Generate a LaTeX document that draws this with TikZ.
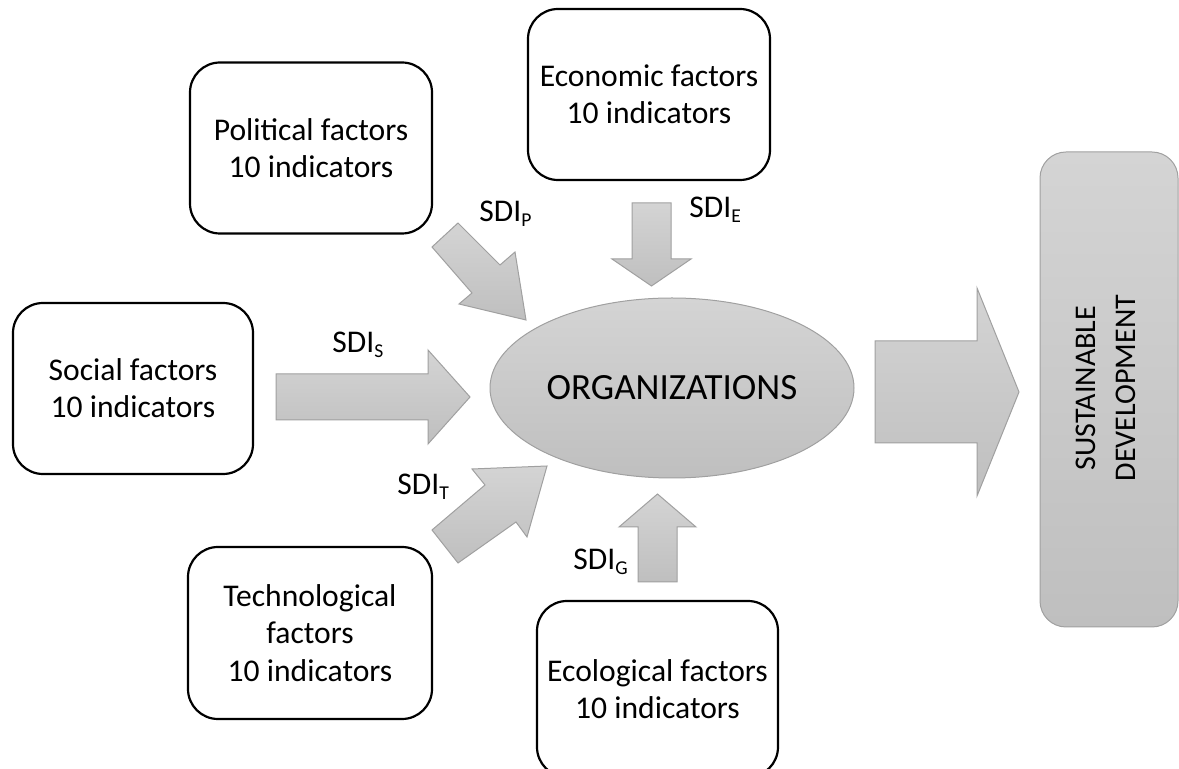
\documentclass[tikz,border=0pt]{standalone}
\usepackage{fontspec}
\setmainfont{Carlito}
\usetikzlibrary{shapes.geometric}
\definecolor{shadeA}{RGB}{212,212,212}
\definecolor{shadeB}{RGB}{191,191,191}
\definecolor{edgegray}{RGB}{160,160,160}
\newcommand\sdisub[1]{\raisebox{-2.5pt}{\fontsize{9.8}{10}\selectfont #1}}
\tikzset{
  factor/.style={draw=black, line width=1.1pt, rounded corners=15pt,
    minimum width=121pt, minimum height=85.5pt, align=center,
    font=\fontsize{15.8}{18.6}\selectfont, inner sep=0pt},
  grayfill/.style={top color=shadeA, bottom color=shadeB, draw=edgegray, line width=0.5pt},
  blockarrow/.style={grayfill},
  sdilabel/.style={anchor=base west, inner sep=0pt, font=\fontsize{15.8}{18.6}\selectfont},
}
\begin{document}
\begin{tikzpicture}[x=0.5pt,y=-0.5pt]
\clip (0,0) rectangle (1179,769);

% factor boxes
\node[factor] (pol) at (311,148) {Political factors\\10 indicators};
\node[factor] (eco) at (649,94.5) {Economic factors\\10 indicators};
\node[factor, minimum width=120pt] (soc) at (133,388.5) {Social factors\\10 indicators};
\node[factor, minimum width=122pt, minimum height=86pt] (tec) at (310,633) {Technological\\factors\\10 indicators};
\node[factor, minimum width=120.5pt, minimum height=88pt] (ecol) at (657.5,689) {Ecological factors\\10 indicators};

% central ellipse
\node[ellipse, grayfill, minimum width=182pt, minimum height=90pt, inner sep=0pt,
  font=\fontsize{18.5}{21}\selectfont] (org) at (672,388) {ORGANIZATIONS};

% sustainable development box
\node[grayfill, rounded corners=13pt, minimum width=69pt, minimum height=237.5pt, inner sep=0pt] (sd) at (1109,389.5) {};
\node[rotate=90, align=center, inner sep=0pt, font=\fontsize{15}{20}\selectfont] (sdtext) at (1106,388) {SUSTAINABLE\\DEVELOPMENT};

% block arrows
\draw[blockarrow] (432,247) -- (458,223) -- (500,265) -- (515,252) -- (526,320) -- (459,304) -- (472,293) -- cycle;
\draw[blockarrow] (632,203) -- (671,203) -- (671,259) -- (691,259) -- (651.5,286) -- (612,259) -- (632,259) -- cycle;
\draw[blockarrow] (276,374) -- (428,374) -- (428,350) -- (470,397) -- (428,444) -- (428,420) -- (276,420) -- cycle;
\draw[blockarrow] (432,530) -- (485,485) -- (472,469) -- (547,466) -- (527,537) -- (516,522) -- (458,563) -- cycle;
\draw[blockarrow] (638,582) -- (677,582) -- (677,527) -- (696,527) -- (657.5,494) -- (619,527) -- (638,527) -- cycle;
\draw[blockarrow] (875,341) -- (977,341) -- (977,288) -- (1019,392) -- (977,496) -- (977,443) -- (875,443) -- cycle;

% labels
\node[sdilabel] (lp) at (479,222) {SDI\sdisub{P}};
\node[sdilabel] (le) at (689,218) {SDI\sdisub{E}};
\node[sdilabel] (ls) at (332,353) {SDI\sdisub{S}};
\node[sdilabel] (lt) at (397,495) {SDI\sdisub{T}};
\node[sdilabel] (lg) at (573,570) {SDI\sdisub{G}};
\end{tikzpicture}
\end{document}
